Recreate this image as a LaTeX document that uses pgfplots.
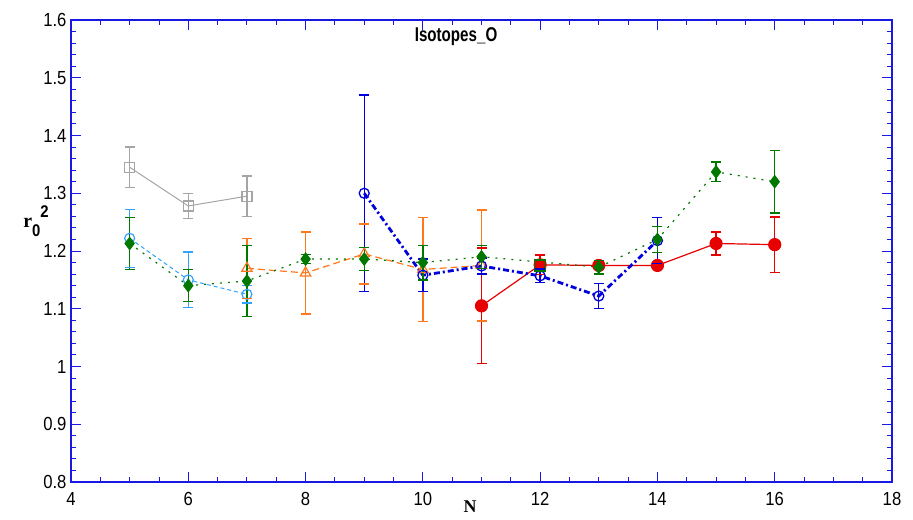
\documentclass[border=0pt]{standalone}
\usepackage{fontspec}
\setmainfont{Liberation Sans}
\newfontfamily\tickfont[FakeStretch=0.88]{Liberation Sans}
\newfontfamily\titlefont[FakeStretch=0.76]{Liberation Sans}
\newfontfamily\serfont{Liberation Serif}
\usepackage{pgfplots}
\pgfplotsset{compat=1.18}
\usepackage{pgfplotstable}
\definecolor{cgray}{RGB}{165,165,165}
\definecolor{clblue}{RGB}{51,161,255}
\definecolor{cgreen}{RGB}{0,120,0}
\definecolor{corange}{RGB}{255,120,30}
\definecolor{cblue}{RGB}{0,0,220}
\definecolor{cred}{RGB}{230,0,0}
\definecolor{caxis}{RGB}{25,25,230}
% error bars as segments: x, y (lower, upper), nan separators
\pgfplotstableread{
x y
5 1.310
5 1.380
nan nan
6 1.256
6 1.300
nan nan
7 1.260
7 1.330
}\egray
\pgfplotstableread{
x y
5 1.172
5 1.272
nan nan
6 1.102
6 1.198
nan nan
7 1.110
7 1.140
}\elblue
\pgfplotstableread{
x y
7 1.118
7 1.222
nan nan
8 1.091
8 1.233
nan nan
9 1.143
9 1.247
nan nan
10 1.078
10 1.258
nan nan
11 1.079
11 1.271
}\eorange
\pgfplotstableread{
x y
11 1.005
11 1.205
nan nan
12 1.159
12 1.193
nan nan
13 1.169
13 1.181
nan nan
14 1.172
14 1.178
nan nan
15 1.193
15 1.233
nan nan
16 1.163
16 1.259
}\ered
\pgfplotstableread{
x y
9 1.130
9 1.470
nan nan
10 1.130
10 1.186
nan nan
11 1.160
11 1.188
nan nan
12 1.145
12 1.169
nan nan
13 1.100
13 1.144
nan nan
14 1.178
14 1.258
}\eblue
\pgfplotstableread{
x y
5 1.168
5 1.258
nan nan
6 1.112
6 1.168
nan nan
7 1.086
7 1.210
nan nan
8 1.178
8 1.194
nan nan
9 1.166
9 1.206
nan nan
10 1.150
10 1.210
nan nan
11 1.170
11 1.210
nan nan
13 1.160
13 1.184
nan nan
14 1.197
14 1.243
nan nan
15 1.320
15 1.354
nan nan
16 1.266
16 1.374
}\egreen
% data points
\pgfplotstableread{
x y
5 1.345
6 1.278
7 1.295
}\tgray
\pgfplotstableread{
x y
5 1.222
6 1.150
7 1.125
}\tlblue
\pgfplotstableread{
x y
5 1.213
6 1.140
7 1.148
8 1.186
9 1.186
10 1.180
11 1.190
13 1.172
14 1.220
15 1.337
16 1.320
}\tgreen
\pgfplotstableread{
x y
7 1.170
8 1.162
9 1.195
10 1.168
11 1.175
}\torange
\pgfplotstableread{
x y
9 1.300
10 1.158
11 1.174
12 1.157
13 1.122
14 1.218
}\tblue
\pgfplotstableread{
x y
11 1.105
12 1.176
13 1.175
14 1.175
15 1.213
16 1.211
}\tred
\pgfplotstableread{
x y
12 1.175
}\tgsq
\pgfplotsset{
  ebar/.style={color=#1, solid, line width=1.3bp, mark=-, mark size=5bp,
    mark options={solid, line width=1.3bp}, forget plot},
}
\begin{document}
\begin{tikzpicture}
\begin{axis}[
  scale only axis, width=821bp, height=462bp,
  xmin=4, xmax=18, ymin=0.8, ymax=1.6,
  unbounded coords=jump,
  xtick={4,6,8,10,12,14,16,18},
  ytick={0.8,0.9,1.0,1.1,1.2,1.3,1.4,1.5,1.6},
  minor x tick num=3, minor y tick num=4,
  tick align=inside, major tick length=10bp, minor tick length=5bp,
  axis line style={caxis, line width=1.3bp},
  every tick/.style={caxis, line width=0.9bp},
  tick label style={font=\tickfont\fontsize{19}{19}\selectfont, text=black},
  /pgf/number format/assume math mode=true,
  xticklabel shift=7bp,
  yticklabel shift=1bp,
  title={Isotopes\_O},
  title style={at={(rel axis cs:0.469,1)}, anchor=center, yshift=-23bp, font=\titlefont\bfseries\fontsize{20}{20}\selectfont},
  xlabel={N},
  xlabel style={at={(rel axis cs:0.486,0)}, anchor=center, yshift=-25bp, font=\serfont\bfseries\fontsize{18}{18}\selectfont},
  ylabel={\serfont\fontsize{20}{20}\selectfont r\tickfont\fontsize{17}{17}\selectfont\raisebox{-9bp}{0}\raisebox{10bp}{2}},
  ylabel style={at={(rel axis cs:0,0.565)}, anchor=center, rotate=-90, xshift=-35bp, font=\bfseries},
]
% gray
\addplot[ebar=cgray] table[x=x, y=y]{\egray};
\addplot[color=cgray, line width=1bp, mark=square, mark size=5bp, mark options={solid, line width=1.2bp}]
  table[x=x, y=y]{\tgray};
% light blue
\addplot[ebar=clblue] table[x=x, y=y]{\elblue};
\addplot[color=clblue, line width=1bp, dash pattern=on 4bp off 3bp, mark=o, mark size=5bp, mark options={solid, line width=1.2bp}]
  table[x=x, y=y]{\tlblue};
% orange
\addplot[ebar=corange] table[x=x, y=y]{\eorange};
\addplot[color=corange, line width=1.2bp, dash pattern=on 7bp off 4bp, mark=triangle, mark size=6bp, mark options={solid, line width=1.2bp}]
  table[x=x, y=y]{\torange};
% red
\addplot[ebar=cred] table[x=x, y=y]{\ered};
\addplot[color=cred, line width=1.2bp, mark=*, mark size=6bp, mark options={solid}]
  table[x=x, y=y]{\tred};
% blue
\addplot[ebar=cblue] table[x=x, y=y]{\eblue};
\addplot[color=cblue, line width=2.8bp, dash pattern=on 6bp off 3bp on 2bp off 3bp, mark=o, mark size=5bp, mark options={solid, line width=1.3bp}]
  table[x=x, y=y]{\tblue};
% green
\addplot[ebar=cgreen] table[x=x, y=y]{\egreen};
\addplot[color=cgreen, line width=1.2bp, dash pattern=on 2bp off 6bp, mark=diamond*, mark size=6bp, mark options={solid}]
  table[x=x, y=y]{\tgreen};
% green square
\addplot[color=cgreen, only marks, mark=square, mark size=5.5bp, mark options={solid, line width=1.2bp}]
  table[x=x, y=y]{\tgsq};
\end{axis}
\pgfresetboundingbox
\path ([shift={(-71bp,-38bp)}]current axis.south west) rectangle ([shift={(21bp,20bp)}]current axis.north east);
\end{tikzpicture}
\end{document}
